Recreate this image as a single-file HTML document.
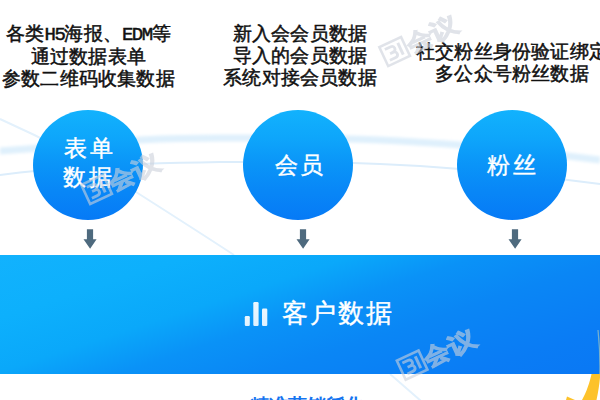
<!DOCTYPE html>
<html><head><meta charset="utf-8">
<style>
html,body{margin:0;padding:0;}
body{width:600px;height:400px;overflow:hidden;position:relative;background:#fff;font-family:"Liberation Sans",sans-serif;}
.abs{position:absolute;}
.txt{position:absolute;color:#111;font-size:19px;letter-spacing:0.2px;line-height:22px;text-align:center;white-space:nowrap;font-weight:400;-webkit-text-stroke:0.5px #111;}
.circle{position:absolute;width:110px;height:110px;border-radius:50%;background:linear-gradient(180deg,#12b2fd 0%,#0ea6fb 25%,#0a94f8 50%,#0886f7 75%,#067af6 100%);}
.ctext{position:absolute;color:#fff;font-size:23px;line-height:28px;text-align:center;white-space:nowrap;letter-spacing:2.5px;text-indent:2.5px;-webkit-text-stroke:0.4px #fff;}
.arrow{position:absolute;}
.band{position:absolute;left:0;top:254.75px;width:600px;height:118.75px;background:linear-gradient(162deg,#12b2fd 0%,#0db0fc 20%,#0aa8fa 37%,#0a92f7 50%,#0a86f5 65%,#0a7cf5 86%,#0a78f4 100%);}
</style></head><body>
<svg class="abs" style="left:0;top:0" width="600" height="400">
  <defs><filter id="blur" x="-10%" y="-50%" width="120%" height="200%"><feGaussianBlur stdDeviation="1.6"/></filter><filter id="blur2" x="-10%" y="-50%" width="120%" height="200%"><feGaussianBlur stdDeviation="0.5"/></filter></defs>
  <path d="M0,151.0 L20,149.6 L40,148.0 L60,146.3 L80,144.5 L100,142.8 L120,141.3 L140,140.0 L160,139.1 L180,138.5 L200,138.2 L220,138.0 L240,138.0 L260,138.0 L280,138.0 L300,138.1 L320,138.4 L340,138.7 L360,139.3 L380,140.1 L400,141.0 L420,142.2 L440,143.5 L460,145.0 L480,146.7 L500,148.5 L520,150.5 L540,152.7 L560,155.0 L580,157.4 L600,160.0" stroke="#dff0fc" stroke-width="7" fill="none" filter="url(#blur)"/>
  <path d="M0,175.0 L20,172.6 L40,170.5 L60,168.7 L80,167.1 L100,165.8 L120,164.7 L140,163.9 L160,163.2 L180,162.7 L200,162.4 L220,162.1 L240,162.0 L260,161.9 L280,161.9 L300,162.0 L320,162.2 L340,162.6 L360,163.2 L380,163.9 L400,164.9 L420,166.1 L440,167.5 L460,169.0 L480,170.7 L500,172.6 L520,174.6 L540,176.7 L560,179.0 L580,181.5 L600,184.0" stroke="#dcedfb" stroke-width="2" fill="none" filter="url(#blur2)"/>
  <path d="M0,119 Q70,150 136,192 T234,255" stroke="#e3f1fc" stroke-width="2" fill="none" filter="url(#blur2)"/>
  <path d="M390,374 L421,401" stroke="#e3f1fc" stroke-width="2" fill="none" filter="url(#blur2)"/>
</svg>

<div class="txt" style="left:-11.5px;width:200px;top:22.5px;">各类<span style="font-family:'Liberation Mono';letter-spacing:-1.5px">H5</span>海报、<span style="font-family:'Liberation Mono';letter-spacing:-1.5px">EDM</span>等<br>通过数据表单<br>参数二维码收集数据</div>
<div class="txt" style="left:200px;width:200px;top:22.5px;">新入会会员数据<br>导入的会员数据<br>系统对接会员数据</div>
<div class="txt" style="left:412px;width:200px;top:41px;">社交粉丝身份验证绑定<br>多公众号粉丝数据</div>

<div class="circle" style="left:33px;top:110px;"></div>
<div class="circle" style="left:243px;top:110px;"></div>
<div class="circle" style="left:457px;top:110px;"></div>

<div class="ctext" style="left:38.5px;width:100px;top:134px;line-height:29px;">表单<br>数据</div>
<div class="ctext" style="left:249px;width:100px;top:151px;">会员</div>
<div class="ctext" style="left:461.5px;width:100px;top:151px;">粉丝</div>


<svg class="arrow" style="left:83.1px;top:228px" width="15" height="22"><path d="M3.9,1.2 H10.1 V11.2 H13.6 L7.1,20.7 L0.5,11.2 H3.9 Z" fill="#4e6a7e"/></svg>
<svg class="arrow" style="left:295.8px;top:228px" width="15" height="22"><path d="M3.9,1.2 H10.1 V11.2 H13.6 L7.1,20.7 L0.5,11.2 H3.9 Z" fill="#4e6a7e"/></svg>
<svg class="arrow" style="left:508.4px;top:228px" width="15" height="22"><path d="M3.9,1.2 H10.1 V11.2 H13.6 L7.1,20.7 L0.5,11.2 H3.9 Z" fill="#4e6a7e"/></svg>
<svg class="abs" style="left:0;top:0" width="600" height="400">
  <path d="M598,328 C601,345 603,370 596.5,400 L582,400 C588,390 595,370 598,328 Z" fill="#fdc22a"/><path d="M567,396.5 L566,400 L575,400 Z" fill="#fdc22a"/>
</svg>
<div class="band"></div>
<svg class="abs" style="left:0;top:0" width="600" height="400"><path d="M598,330 C599.5,345 600.2,360 599.8,374" stroke="rgba(210,220,170,0.55)" stroke-width="1.2" fill="none"/></svg>
<svg class="abs" style="left:244px;top:301px" width="26" height="27">
  <defs><linearGradient id="bg" x1="0" y1="0" x2="0" y2="1"><stop offset="0" stop-color="#fff" stop-opacity="0.92"/><stop offset="1" stop-color="#eaf6ff" stop-opacity="0.95"/></linearGradient></defs>
  <rect x="0.8" y="15" width="5" height="10" rx="1.2" fill="url(#bg)"/>
  <rect x="9.3" y="1" width="5.3" height="24" rx="1.2" fill="url(#bg)"/>
  <rect x="18" y="7.6" width="5.3" height="17.4" rx="1.2" fill="url(#bg)"/>
</svg>
<div class="abs" style="left:282px;top:298px;color:#fff;font-size:26px;line-height:30px;letter-spacing:2px;white-space:nowrap;-webkit-text-stroke:0.4px #fff;">客户数据</div>



<div class="abs" style="left:250px;top:394px;color:#1574f0;font-size:19px;line-height:24px;font-weight:700;white-space:nowrap;">精准营销孵化</div>

<svg class="abs" style="left:0;top:0" width="600" height="400"><g transform="translate(122,177.5) rotate(-25)" opacity="0.6"><rect x="-40" y="-10.5" width="24" height="21" fill="none" stroke="#cdd2dc" stroke-width="2.6"/><path d="M-36,-6 H-30 Q-26.5,-6 -26.5,-3 Q-26.5,0 -30,0 H-33 M-30,0 Q-26.5,0 -26.5,3 Q-26.5,6 -30,6 H-36" fill="none" stroke="#cdd2dc" stroke-width="2.8"/><path d="M-21.5,-6.5 V6.5" stroke="#cdd2dc" stroke-width="3"/><g fill="#cdd2dc" stroke="#cdd2dc" stroke-width="0.9" font-weight="700"><text x="-14" y="8.5" font-family="Liberation Sans" font-size="23" textLength="26" lengthAdjust="spacingAndGlyphs">会</text><text x="12" y="8.5" font-family="Liberation Sans" font-size="23" textLength="29" lengthAdjust="spacingAndGlyphs">议</text></g></g><g transform="translate(420,39.7) rotate(-25)" opacity="0.6"><rect x="-40" y="-10.5" width="24" height="21" fill="none" stroke="#cdd2dc" stroke-width="2.6"/><path d="M-36,-6 H-30 Q-26.5,-6 -26.5,-3 Q-26.5,0 -30,0 H-33 M-30,0 Q-26.5,0 -26.5,3 Q-26.5,6 -30,6 H-36" fill="none" stroke="#cdd2dc" stroke-width="2.8"/><path d="M-21.5,-6.5 V6.5" stroke="#cdd2dc" stroke-width="3"/><g fill="#cdd2dc" stroke="#cdd2dc" stroke-width="0.9" font-weight="700"><text x="-14" y="8.5" font-family="Liberation Sans" font-size="23" textLength="26" lengthAdjust="spacingAndGlyphs">会</text><text x="12" y="8.5" font-family="Liberation Sans" font-size="23" textLength="29" lengthAdjust="spacingAndGlyphs">议</text></g></g><g transform="translate(437.5,353.25) rotate(-25)" opacity="0.6"><rect x="-40" y="-10.5" width="24" height="21" fill="none" stroke="#cdd2dc" stroke-width="2.6"/><path d="M-36,-6 H-30 Q-26.5,-6 -26.5,-3 Q-26.5,0 -30,0 H-33 M-30,0 Q-26.5,0 -26.5,3 Q-26.5,6 -30,6 H-36" fill="none" stroke="#cdd2dc" stroke-width="2.8"/><path d="M-21.5,-6.5 V6.5" stroke="#cdd2dc" stroke-width="3"/><g fill="#cdd2dc" stroke="#cdd2dc" stroke-width="0.9" font-weight="700"><text x="-14" y="8.5" font-family="Liberation Sans" font-size="23" textLength="26" lengthAdjust="spacingAndGlyphs">会</text><text x="12" y="8.5" font-family="Liberation Sans" font-size="23" textLength="29" lengthAdjust="spacingAndGlyphs">议</text></g></g></svg>
</body></html>
